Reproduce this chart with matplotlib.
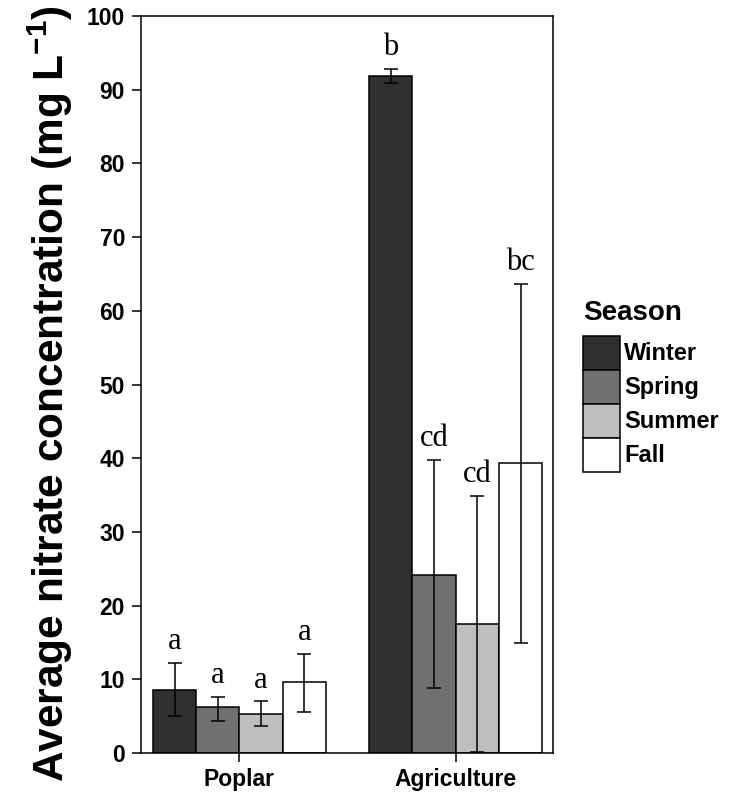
import numpy as np
import matplotlib
matplotlib.use("Agg")
import matplotlib.pyplot as plt
from matplotlib.patches import Patch

# Data
sites = ['Poplar', 'Agriculture']
seasons = ['Winter', 'Spring', 'Summer', 'Fall']
colors = ['#303030', '#707070', '#bebebe', '#ffffff']

# mean nitrate, rows = site, cols = season
means = np.array([[8.6, 6.2, 5.25, 9.7],
                  [91.9, 24.2, 17.5, 39.3]])
err_hi = np.array([[12.25, 7.6, 7.0, 13.4],
                   [92.8, 39.8, 34.9, 63.6]])
err_lo = np.array([[5.0, 4.4, 3.6, 5.6],
                   [90.9, 8.8, 0.1, 14.9]])
letters = [['a', 'a', 'a', 'a'],
           ['b', 'cd', 'cd', 'bc']]

plt.rcParams['font.family'] = ['Liberation Sans', 'DejaVu Sans']
plt.rcParams['font.weight'] = 'bold'
plt.rcParams['mathtext.default'] = 'regular'

fig = plt.figure(figsize=(7.36, 7.96), dpi=100)
ax = fig.add_axes([141 / 736, 43 / 796, 412 / 736, 737 / 796])

x = np.arange(1, len(sites) + 1)
width = 0.2
for j, season in enumerate(seasons):
    pos = x + (j - 1.5) * width
    ax.bar(pos, means[:, j], width=width, color=colors[j],
           edgecolor='black', linewidth=1.1, zorder=2)
    yerr = [means[:, j] - err_lo[:, j], err_hi[:, j] - means[:, j]]
    ax.errorbar(pos, means[:, j], yerr=yerr, fmt='none', ecolor='black',
                elinewidth=1.1, capsize=5, capthick=1.1, zorder=3)
    for i in range(len(sites)):
        ax.text(pos[i], err_hi[i, j] + 2.9, letters[i][j], ha='center',
                va='center', fontsize=22, family='Liberation Serif',
                fontweight='normal')

ax.set_xlim(0.545, 2.45)
ax.set_ylim(0, 100)
ax.set_yticks(np.arange(0, 101, 10))
ax.set_xticks(x)
ax.set_xticklabels(sites)
for s in ax.spines.values():
    s.set_linewidth(1.1)
ax.tick_params(axis='both', direction='out', length=6.5, width=1.1,
               labelsize=16.5, pad=4)
ax.tick_params(axis='y', pad=5)

fig.text(50 / 736, 1 - 394 / 796,
         'Average nitrate concentration (mg L$^{-1}$)',
         rotation=90, ha='center', va='center', fontsize=30.5,
         fontweight='bold')

handles = [Patch(facecolor=c, edgecolor='black', linewidth=1.1) for c in colors]
leg = fig.legend(handles, seasons, loc='upper left',
                 bbox_to_anchor=(583 / 736, 1 - 300 / 796),
                 bbox_transform=fig.transFigure, frameon=False,
                 fontsize=17, title='Season',
                 title_fontproperties={'weight': 'bold', 'size': 20},
                 handlelength=1.55, handleheight=1.84, labelspacing=0,
                 handletextpad=0.2, borderpad=0, borderaxespad=0,
                 alignment='left')
leg._legend_box.sep = 7

fig.savefig('out.png', dpi=100)
